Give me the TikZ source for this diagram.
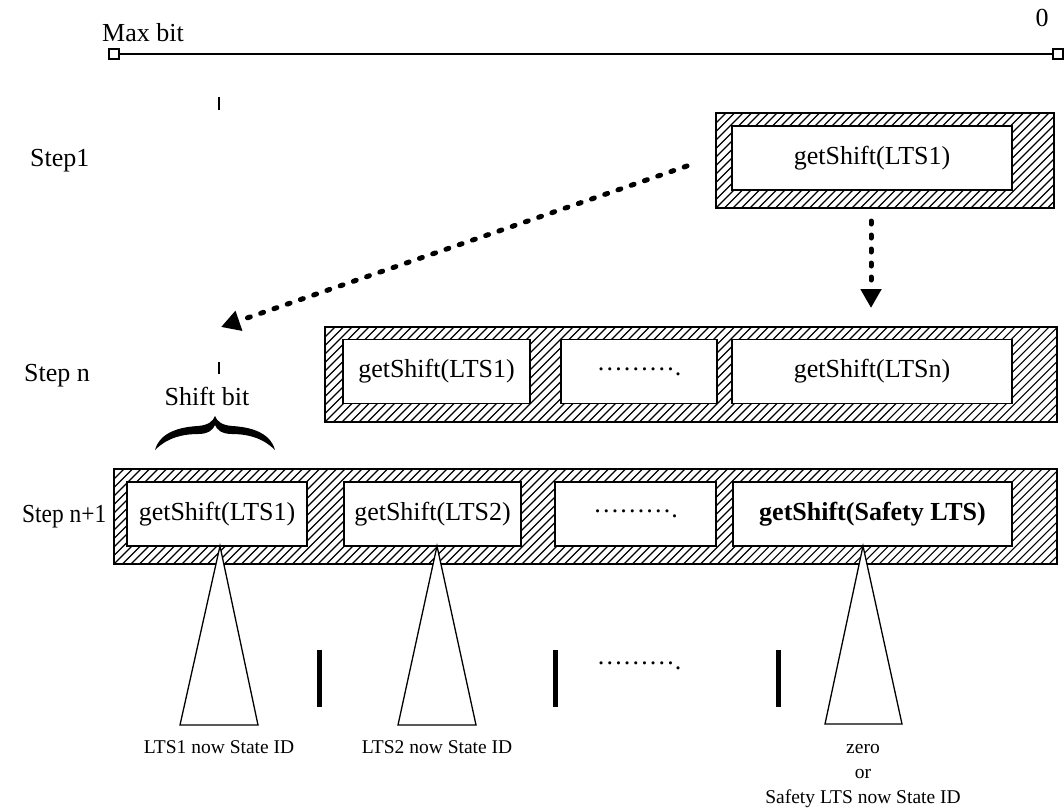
\documentclass[tikz,border=0pt]{standalone}
\usepackage{fontspec}
\setmainfont{Liberation Serif}
\usetikzlibrary{arrows.meta}
\newcommand\elide{\raisebox{5pt}{………}.}
\begin{document}
\begin{tikzpicture}[x=1pt,y=-1pt,
  big/.style={font=\fontsize{26}{31}\selectfont, inner sep=0pt},
  small/.style={font=\fontsize{19.5}{25}\selectfont, inner sep=0pt},
  hatchbox/.style={draw, line width=1.6pt, inner sep=0pt, minimum height=95pt,
    path picture={\foreach \k in {-14,...,120}
      \draw[line width=1.1pt] ([xshift=\k*8.5pt]path picture bounding box.south west) -- ++(110,-110);}},
  cell/.style={draw, line width=1.6pt, fill=white, inner sep=0pt, minimum height=64pt, big},
  flow/.style={line width=5pt, line cap=round, dash pattern=on 3pt off 11pt,
    -{Triangle[width=20pt,length=19pt]}},
  bar/.style={line width=5pt},
  tick/.style={line width=1.5pt},
  cone/.style={draw, line width=1.3pt, fill=white, line join=miter},
  endbox/.style={draw, line width=1.3pt, fill=white, minimum size=10pt, inner sep=0pt}
]
\useasboundingbox (0,0) rectangle (1064,807);

% bit range ruler
\node[endbox] (lend) at (114,54) {};
\node[endbox] (rend) at (1058,54) {};
\draw[line width=1.3pt] (lend) -- (rend);
\node[big, anchor=base west] (maxbit) at (102,41) {Max bit};
\node[big, anchor=base] (zero0) at (1042,26) {0};

% shift position markers
\draw[tick] (219,97) -- (219,110);
\draw[tick] (219,362) -- (219,374);

% step labels
\node[big, anchor=base west] (s1) at (30,166) {Step1};
\node[big, anchor=base west] (sn) at (24,381) {Step n};
\node[big, anchor=base west] (sn1) at (22,522) {\scalebox{0.9}[1]{Step n+1}};

% step 1
\node[hatchbox, minimum width=338pt] (row1) at (885,160.5) {};
\node[cell, minimum width=280pt] (a1) at (872,158) {getShift(LTS1)};

% step n
\node[hatchbox, minimum width=732pt] (rown) at (691,374.5) {};
\node[cell, minimum width=187pt] (b1) at (436.5,371.5) {getShift(LTS1)};
\node[cell, minimum width=156pt] (b2) at (639,371.5) {\elide};
\node[cell, minimum width=280pt] (b3) at (872,371.5) {getShift(LTSn)};

% step n+1
\node[hatchbox, minimum width=943pt] (rowm) at (585.5,516.5) {};
\node[cell, minimum width=180pt] (c1) at (217,514) {getShift(LTS1)};
\node[cell, minimum width=177pt] (c2) at (432.5,514) {getShift(LTS2)};
\node[cell, minimum width=161pt] (c3) at (635.5,514) {\elide};
\node[cell, minimum width=279pt] (c4) at (872.5,514) {\textbf{getShift(Safety LTS)}};

% shift bit brace
\node[big, anchor=base] (shiftbit) at (207,405) {Shift bit};
\fill (155,450) .. controls (160,432) and (180,427) .. (198,426)
  .. controls (209,425) and (213,421) .. (215,416)
  .. controls (217,421) and (221,425) .. (232,426)
  .. controls (250,427) and (270,432) .. (275,450)
  .. controls (262,437) and (246,434) .. (232,434)
  .. controls (222,434) and (217,430) .. (215,425)
  .. controls (213,430) and (208,434) .. (198,434)
  .. controls (184,434) and (168,437) .. (155,450) -- cycle;

% state id cones
\draw[cone] (220,546) -- (258,725) -- (180,725) -- cycle;
\draw[cone] (437,546) -- (476,725) -- (398,725) -- cycle;
\draw[cone] (863,546) -- (902,724) -- (825,724) -- cycle;

% separators
\draw[bar] (319,650) -- (319,707);
\draw[bar] (555,650) -- (555,707);
\draw[bar] (778,650) -- (778,707);
\node[big, anchor=base] (gap) at (639,669) {\elide};

% state id labels
\node[small, anchor=base] (id1) at (219,753) {LTS1 now State ID};
\node[small, anchor=base] (id2) at (437,753) {LTS2 now State ID};
\node[small, anchor=base] (id3a) at (863,753) {zero};
\node[small, anchor=base] (id3b) at (863,778) {or};
\node[small, anchor=base] (id3c) at (863,803) {Safety LTS now State ID};

% step transitions
\coordinate (dstart) at (687,166);
\coordinate (dend) at (221,327);
\coordinate (vstart) at (871,221);
\coordinate (vend) at (871,308);
\draw[flow] (dstart) -- (dend);
\draw[flow] (vstart) -- (vend);
\end{tikzpicture}
\end{document}
